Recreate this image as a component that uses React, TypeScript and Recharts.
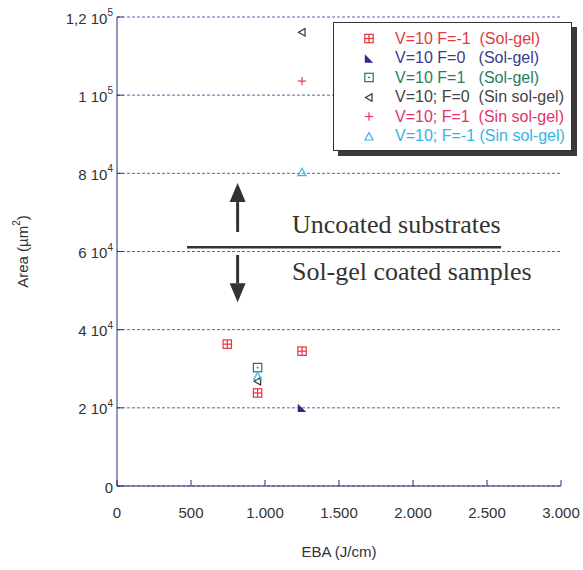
import React from 'react';
import {
  ScatterChart,
  Scatter,
  XAxis,
  YAxis,
  CartesianGrid,
  ReferenceLine,
  ReferenceDot,
  Legend,
  Label,
} from 'recharts';

// ticks
const xTicks = [0, 500, 1000, 1500, 2000, 2500, 3000];
const xTickLabels = ['0', '500', '1.000', '1.500', '2.000', '2.500', '3.000'];
const yTicks = [0, 20000, 40000, 60000, 80000, 100000, 120000];
const yTickBase = ['0', '2 10', '4 10', '6 10', '8 10', '1 10', '1,2 10'];
const yTickExp = ['', '4', '4', '4', '4', '5', '5'];

// series (EBA J/cm, area µm²)
const solGelFm1 = [
  { eba: 745, area: 36300 },
  { eba: 1250, area: 34500 },
  { eba: 950, area: 23800 },
];
const solGelF0 = [{ eba: 1250, area: 20000 }];
const solGelF1 = [{ eba: 950, area: 30300 }];
const sinF0 = [
  { eba: 1250, area: 116100 },
  { eba: 950, area: 26800 },
];
const sinF1 = [{ eba: 1250, area: 103600 }];
const sinFm1 = [
  { eba: 1250, area: 80300 },
  { eba: 950, area: 28100 },
];

// annotation (data coords)
const dividerLine = [
  { x: 473, y: 61100 },
  { x: 2595, y: 61100 },
];
const upArrow = [
  { x: 815, y: 65000 },
  { x: 815, y: 77500 },
];
const downArrow = [
  { x: 815, y: 59100 },
  { x: 815, y: 47000 },
];
const upperText = { x: 1182, y: 64700, text: 'Uncoated substrates' };
const lowerText = { x: 1182, y: 52700, text: 'Sol-gel coated samples' };

const AXIS = '#2b2b7a';
const INK = '#333333';
const SANS = 'Helvetica, Arial, "Liberation Sans", sans-serif';
const SERIF = '"Times New Roman", "Liberation Serif", serif';

type Kind = 'boxCross' | 'corner' | 'boxDot' | 'left' | 'plus' | 'tri';

const Marker = ({ kind, cx, cy, color }: { kind: Kind; cx: number; cy: number; color: string }) => {
  const s = 4.2;
  switch (kind) {
    case 'boxCross':
      return (
        <g stroke={color} strokeWidth={1.2} fill="none">
          <rect x={cx - s} y={cy - s} width={2 * s} height={2 * s} />
          <line x1={cx - s} y1={cy} x2={cx + s} y2={cy} />
          <line x1={cx} y1={cy - s} x2={cx} y2={cy + s} />
        </g>
      );
    case 'corner':
      return <polygon points={`${cx - s},${cy - s} ${cx - s},${cy + s} ${cx + s},${cy + s}`} fill={color} />;
    case 'boxDot':
      return (
        <g>
          <rect x={cx - s} y={cy - s} width={2 * s} height={2 * s} stroke={color} strokeWidth={1.2} fill="#fff" />
          <rect x={cx - 0.8} y={cy - 0.8} width={1.6} height={1.6} fill={color} />
        </g>
      );
    case 'left':
      return (
        <polygon
          points={`${cx + 3},${cy - 3.8} ${cx - 3.5},${cy} ${cx + 3},${cy + 3.8}`}
          stroke={color}
          strokeWidth={1.2}
          fill="none"
        />
      );
    case 'plus':
      return (
        <g stroke={color} strokeWidth={1.2}>
          <line x1={cx - s} y1={cy} x2={cx + s} y2={cy} />
          <line x1={cx} y1={cy - s} x2={cx} y2={cy + s} />
        </g>
      );
    default:
      return (
        <polygon
          points={`${cx},${cy - 4} ${cx - 4},${cy + 3.5} ${cx + 4},${cy + 3.5}`}
          stroke={color}
          strokeWidth={1.2}
          fill="none"
        />
      );
  }
};

const series: { name: string; data: { eba: number; area: number }[]; kind: Kind; color: string; text: string }[] = [
  { name: 'V=10 F=-1  (Sol-gel)', data: solGelFm1, kind: 'boxCross', color: '#e3363d', text: '#e03a3f' },
  { name: 'V=10 F=0   (Sol-gel)', data: solGelF0, kind: 'corner', color: '#2b2b80', text: '#3a3a8c' },
  { name: 'V=10 F=1   (Sol-gel)', data: solGelF1, kind: 'boxDot', color: '#1e7a5a', text: '#2a7d5c' },
  { name: 'V=10; F=0  (Sin sol-gel)', data: sinF0, kind: 'left', color: '#333333', text: '#444444' },
  { name: 'V=10; F=1  (Sin sol-gel)', data: sinF1, kind: 'plus', color: '#e5336b', text: '#e2336a' },
  { name: 'V=10; F=-1 (Sin sol-gel)', data: sinFm1, kind: 'tri', color: '#36b6e8', text: '#36b4e4' },
];

const XTick = (props: any) => {
  const { x, y, payload } = props;
  const i = xTicks.indexOf(payload.value);
  return (
    <text x={x} y={y} textAnchor="middle" dominantBaseline="central" fontSize={15} fill={INK} fontFamily={SANS}>
      {xTickLabels[i]}
    </text>
  );
};

const YTick = (props: any) => {
  const { x, y, payload } = props;
  const i = yTicks.indexOf(payload.value);
  return (
    <text x={x + 1} y={y + 1} textAnchor="end" dominantBaseline="central" fontSize={15} fill={INK} fontFamily={SANS}>
      {yTickBase[i]}
      {yTickExp[i] && (
        <tspan dy={-6} fontSize={10}>
          {yTickExp[i]}
        </tspan>
      )}
    </text>
  );
};

const LegendBox = () => (
  <div
    style={{
      border: `1px solid ${INK}`,
      boxShadow: '5px 5px 0 #3a3a3a',
      background: '#fff',
      padding: '6px 0 4px 0',
      fontFamily: SANS,
      fontSize: 16,
    }}
  >
    {series.map((s) => (
      <div key={s.name} style={{ display: 'flex', alignItems: 'center', height: 19.5 }}>
        <svg width={61} height={19} style={{ flex: 'none' }}>
          <Marker kind={s.kind} cx={35} cy={9.5} color={s.color} />
        </svg>
        <span style={{ color: s.text, whiteSpace: 'pre' }}>{s.name}</span>
      </div>
    ))}
  </div>
);

const Arrow = (props: any) => {
  const { x1, y1, x2, y2 } = props;
  const dir = y2 < y1 ? -1 : 1;
  const head = 19;
  return (
    <g>
      <line x1={x1} y1={y1} x2={x2} y2={y2 - dir * head} stroke={INK} strokeWidth={3} />
      <polygon points={`${x2},${y2} ${x2 - 8},${y2 - dir * head} ${x2 + 8},${y2 - dir * head}`} fill={INK} />
    </g>
  );
};

const Divider = (props: any) => {
  const { x1, y1, x2, y2 } = props;
  return <line x1={x1} y1={y1} x2={x2} y2={y2} stroke={INK} strokeWidth={2.5} />;
};

const noteText = (text: string) => (props: any) => (
  <text x={props.cx} y={props.cy} fontSize={26} fill={INK} fontFamily={SERIF}>
    {text}
  </text>
);

export default function App() {
  return (
    <div style={{ position: 'absolute', left: 0, top: 0, background: '#fff' }}>
      <ScatterChart width={583} height={570} margin={{ top: 17, right: 22, bottom: 0, left: 0 }}>
        <CartesianGrid vertical={false} stroke="#6262ae" strokeDasharray="3 2" />
        <XAxis
          type="number"
          dataKey="eba"
          domain={[0, 3000]}
          ticks={xTicks}
          height={84}
          stroke={AXIS}
          tickSize={-6}
          tickMargin={32}
          tick={<XTick />}
          interval={0}
        >
          <Label
            content={(p: any) => (
              <text
                x={p.viewBox.x + p.viewBox.width / 2}
                y={p.viewBox.y + 65}
                textAnchor="middle"
                dominantBaseline="central"
                fontSize={15}
                fill={INK}
                fontFamily={SANS}
              >
                EBA (J/cm)
              </text>
            )}
          />
        </XAxis>
        <YAxis
          type="number"
          dataKey="area"
          domain={[0, 120000]}
          ticks={yTicks}
          width={117}
          stroke={AXIS}
          tickSize={-6}
          tickMargin={11}
          tick={<YTick />}
          interval={0}
        >
          <Label
            content={(p: any) => {
              const cy = p.viewBox.y + p.viewBox.height / 2;
              return (
                <text
                  x={22}
                  y={cy}
                  transform={`rotate(-90 22 ${cy})`}
                  textAnchor="middle"
                  dominantBaseline="central"
                  fontSize={15}
                  fill={INK}
                  fontFamily={SANS}
                >
                  Area (µm
                  <tspan dy={-6} fontSize={10}>
                    2
                  </tspan>
                  <tspan dy={6}>)</tspan>
                </text>
              );
            }}
          />
        </YAxis>
        <ReferenceLine segment={dividerLine} shape={<Divider />} />
        <ReferenceLine segment={upArrow} shape={<Arrow />} />
        <ReferenceLine segment={downArrow} shape={<Arrow />} />
        <ReferenceDot x={upperText.x} y={upperText.y} shape={noteText(upperText.text)} />
        <ReferenceDot x={lowerText.x} y={lowerText.y} shape={noteText(lowerText.text)} />
        {series.map((s) => (
          <Scatter
            key={s.name}
            name={s.name}
            data={s.data}
            isAnimationActive={false}
            shape={(p: any) => <Marker kind={s.kind} cx={p.cx} cy={p.cy} color={s.color} />}
          />
        ))}
        <Legend
          layout="vertical"
          align="center"
          verticalAlign="middle"
          content={<LegendBox />}
          wrapperStyle={{ position: 'absolute', left: 333, top: 22, width: 239 }}
        />
      </ScatterChart>
    </div>
  );
}
